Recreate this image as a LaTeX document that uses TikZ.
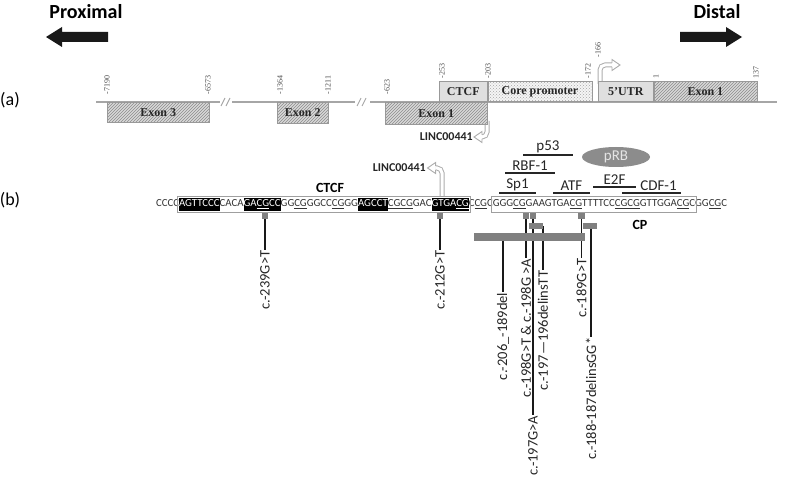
\documentclass[tikz,border=0pt]{standalone}
\usepackage{fontspec}
\setmainfont{Liberation Serif}
\newfontfamily\calib{Carlito}
\usetikzlibrary{positioning,patterns,shapes.geometric,fit,backgrounds}

\newcommand\cpg{\underline{CG}}

\begin{document}
\begin{tikzpicture}[x=1pt,y=-1pt,
  dirlab/.style={font=\calib\bfseries\fontsize{20}{20}\selectfont,inner sep=0},
  dirarr/.style={fill=black!90},
  partlab/.style={font=\calib\fontsize{18}{18}\selectfont,inner sep=0},
  chrom/.style={draw=gray!70,line width=1.2},
  genebox/.style={draw=gray!80,line width=0.6,inner sep=0,minimum height=20,
    font=\bfseries\fontsize{12}{12}\selectfont,text=black!85},
  exon/.style={genebox,preaction={fill=gray!30},pattern=north east lines,pattern color=gray!90},
  poslab/.style={rotate=90,anchor=west,inner sep=0.5,font=\fontsize{8}{8}\selectfont,text=black!70},
  hollow/.style={draw=gray!65,line width=5,rounded corners=5,postaction={draw=white,line width=3}},
  hollowtip/.style={draw=gray!65,fill=white,line width=0.9},
  linclab/.style={font=\calib\bfseries\fontsize{12}{12}\selectfont,inner sep=0,anchor=east,text=black!85},
  seq/.style={inner sep=0,outer sep=0,text height=8.8,text depth=4,
    font=\calib\fontsize{10.8}{12}\selectfont,text=black!80},
  hl/.style={seq,fill=black,text=white},
  region/.style={draw=gray!75,line width=0.7,inner xsep=1.5,inner ysep=1.5},
  boldlab/.style={font=\calib\bfseries\fontsize{14}{14}\selectfont,inner sep=0},
  tfbar/.style={fill=black!85,inner sep=0,minimum height=1.6,minimum width=#1},
  tflab/.style={font=\calib\fontsize{15}{15}\selectfont,inner sep=0.8,text=black!85},
  snp/.style={fill=black!50,inner sep=0,minimum width=6.5,minimum height=6},
  mutlab/.style={rotate=90,anchor=east,inner sep=0.5,font=\calib\fontsize{14.5}{15}\selectfont,text=black!85},
  mutline/.style={draw=black!90,line width=1.3}
]
\useasboundingbox (0,0) rectangle (800,489);

% proximal / distal
\node[dirlab] (prox) at (86,12) {Proximal};
\fill[dirarr] (46,37) -- (62,27) -- (62,32) -- (108,32) -- (108,42) -- (62,42) -- (62,47) -- cycle;
\node[dirlab] (dist) at (717,12) {Distal};
\fill[dirarr] (742,37) -- (726,27) -- (726,32) -- (680,32) -- (680,42) -- (726,42) -- (726,47) -- cycle;

\node[partlab] (laba) at (10,100) {(a)};
\node[partlab] (labb) at (10,200) {(b)};

% (a) gene map
\draw[chrom] (96,102) -- (220,102) (232,102) -- (355,102) (370,102) -- (777,102);
\draw[chrom,line width=0.9] (221,106) -- (225,98) (226,106) -- (230,98)
  (357,106) -- (361,98) (362,106) -- (366,98);

\draw[hollow] (600,84) -- (600,65) -- (612.3,65);
\path[hollowtip] (612,63) -- (612,59.5) -- (620,65) -- (612,70.5) -- (612,67);
\draw[hollow] (487,121) -- (487,137) -- (481.7,137);
\path[hollowtip] (482,139) -- (482,142.5) -- (474,137) -- (482,131.5) -- (482,135);
\node[linclab] (linca) at (473,137) {LINC00441};

\node[exon,minimum width=102,anchor=north west] (exon3) at (107,102) {Exon 3};
\node[exon,minimum width=51,minimum height=21,anchor=north west] (exon2) at (277,102) {Exon 2};
\node[exon,minimum width=102,minimum height=22,anchor=north west] (lexon1) at (385,102) {Exon 1};
\node[genebox,fill=gray!25,minimum width=48,anchor=south west] (ctcf) at (439,102) {CTCF};
\node[genebox,preaction={fill=gray!8},pattern=crosshatch dots,pattern color=gray!70,
  minimum width=104,right=0pt of ctcf] (core) {Core promoter};
\node[genebox,fill=gray!25,minimum width=55,anchor=south west] (utr) at (598,102) {5'UTR};
\node[exon,minimum width=103,right=0pt of utr] (exon1) {Exon 1};

\foreach \p/\x in {-7190/107,-6573/208,-1364/280,-1211/328,-623/387}
  \node[poslab] (p\p) at (\x,95) {\p};
\foreach \p/\x in {-253/442,-203/488,-172/588,1/656,137/756}
  \node[poslab] (p\p) at (\x,79) {\p};
\node[poslab] (p-166) at (598,58) {-166};

% (b) sequence
\draw[hollow] (442,197) -- (442,168) -- (435.3,168);
\path[hollowtip] (435.6,166) -- (435.6,162.5) -- (427.5,168) -- (435.6,173.5) -- (435.6,170);
\node[linclab] (lincb) at (426,168) {LINC00441};

\node[seq,anchor=base west] (s1) at (156,206.5) {CCCC};
\node[hl,right=0pt of s1] (s2) {AGTTCCC};
\node[seq,right=0pt of s2] (s3) {CACA};
\node[hl,right=0pt of s3] (s4) {GA\cpg CC};
\node[seq,right=0pt of s4] (s5) {GG\cpg GGCC\cpg GG};
\node[hl,right=0pt of s5] (s6) {AGCCT};
\node[seq,right=0pt of s6] (s7) {\cpg\cpg GAC};
\node[hl,right=0pt of s7] (s8) {GTGA\cpg};
\node[seq,right=0pt of s8] (s9) {C\cpg C};
\node[seq,right=0pt of s9] (s10) {GGG\cpg GAAGTGA\cpg TTTTCC\cpg\cpg GTTGGA\cpg C};
\node[seq,right=0pt of s10] (s11) {GG\cpg C};
\node[region,fit=(s2)(s8)] (ctcfreg) {};
\node[region,fit=(s10)] (cpreg) {};

\node[boldlab] (ctcfb) at (330,188) {CTCF};
\node[boldlab] (cp) at (640,225) {CP};

% binding factors
\node[tfbar=37,label={[tflab]above:Sp1}] (sp1) at (517.5,193) {};
\node[tfbar=37,label={[tflab]above:ATF}] (atf) at (571.5,193) {};
\node[tfbar=43,label={[tflab]above:E2F}] (e2f) at (614.5,187) {};
\node[tfbar=59,label={[tflab,xshift=7pt]above:CDF-1}] (cdf1) at (651.5,193) {};
\node[tfbar=50,label={[tflab]above:RBF-1}] (rbf1) at (530,173) {};
\node[tfbar=50,label={[tflab]above:p53}] (p53) at (548,155) {};
\node[ellipse,fill=black!45,text=gray!20,minimum width=68,minimum height=20,inner sep=0,
  font=\calib\fontsize{15}{15}\selectfont] (prb) at (616,157) {pRB};

% variants
\node[snp] (k239) at (265,216) {};
\node[snp] (k212) at (440,216) {};
\node[snp] (k198) at (526,215.5) {};
\node[snp] (k197) at (533,215.5) {};
\node[snp] (k189) at (581.5,215.5) {};
\node[snp,minimum width=14] (kins1) at (536,226) {};
\node[snp,minimum width=14] (kins2) at (590,226) {};
\node[snp,minimum width=111,minimum height=8] (kdel) at (529.5,237) {};

\node[mutlab] (m239) at (265,250) {c.-239G>T};
\node[mutlab] (m212) at (440,250) {c.-212G>T};
\node[mutlab] (mdel) at (503,292) {c.-206\_-189del};
\node[mutlab] (m198) at (526,258) {c.-198G>T \& c.-198G >A};
\node[mutlab] (m197) at (533,415) {c.-197G>A};
\node[mutlab] (mins1) at (543,270) {c.-197—196delinsTT};
\node[mutlab] (m189) at (581.5,258) {c.-189G>T};
\node[mutlab] (mins2) at (591,337) {c.-188-187delinsGG*};

\begin{scope}[on background layer]
\draw[mutline] (k239) -- (m239.east);
\draw[mutline] (k212) -- (m212.east);
\draw[mutline] (mdel.east |- kdel.center) -- (mdel.east);
\draw[mutline] (k198) -- (m198.east);
\draw[mutline] (k197) -- (m197.east);
\draw[mutline] (mins1.east |- kins1.center) -- (mins1.east);
\draw[mutline] (k189) -- (m189.east);
\draw[mutline] (mins2.east |- kins2.center) -- (mins2.east);
\end{scope}

\end{tikzpicture}
\end{document}
